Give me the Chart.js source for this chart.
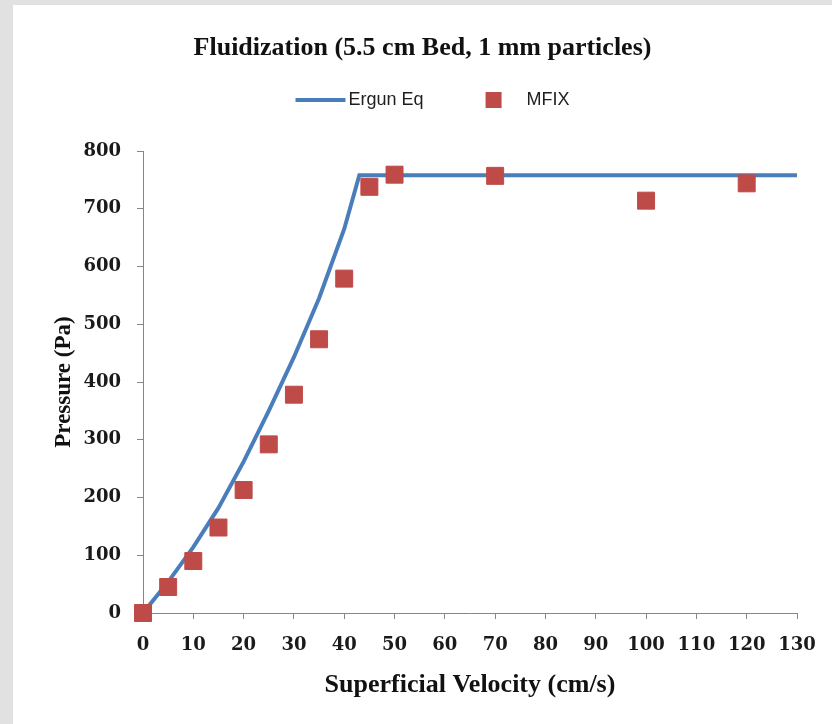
<!DOCTYPE html>
<html>
<head>
<meta charset="utf-8">
<script src="https://cdn.jsdelivr.net/npm/chart.js@4.4.1/dist/chart.umd.min.js"></script>
<style>
  html, body { margin: 0; padding: 0; background: #e1e1e1; width: 832px; height: 724px; overflow: hidden; }
  #panel { position: absolute; left: 13px; top: 5px; width: 819px; height: 719px; background: #fff; }
</style>
</head>
<body>
<div id="panel"><canvas id="chart"></canvas></div>
<script>
// Ergun equation curve (cm/s -> Pa)
const ergunVel = [0, 5, 10, 15, 20, 25, 30, 35, 40, 43, 130];
const ergunDp = [0, 54, 114, 182, 262, 350, 443, 545, 665, 758, 758];

// MFIX simulation points
const mfixVel = [0, 5, 10, 15, 20, 25, 30, 35, 40, 45, 50, 70, 100, 120];
const mfixDp = [0, 45, 90, 148, 213, 292, 378, 474, 579, 738, 759, 757, 714, 744];

const colors = {
  ergun: '#4a7ebb',
  mfix: '#be4b48',
  axis: '#868686',
  text: '#1a1a1a',
};

const toXY = (xs, ys) => xs.map((x, i) => ({ x, y: ys[i] }));

// Legend glyphs, drawn into small canvases so each entry can have its own shape
function legendLine() {
  const c = document.createElement('canvas');
  c.width = 80; c.height = 4;
  const g = c.getContext('2d');
  g.fillStyle = colors.ergun;
  g.fillRect(28, 0, 50, 4);
  return c;
}
function legendSquare() {
  const c = document.createElement('canvas');
  c.width = 64; c.height = 16;
  const g = c.getContext('2d');
  g.fillStyle = colors.mfix;
  g.fillRect(32, 0, 16, 16);
  return c;
}
const legendGlyphs = [legendLine(), legendSquare()];

// empty box between legend and plot area
const legendGap = {
  id: 'legendGap',
  beforeInit(chart) {
    const box = {
      position: 'top', weight: 500, fullSize: true, options: {},
      width: 0, height: 0, left: 0, top: 0, right: 0, bottom: 0,
      isHorizontal: () => true,
      update(maxWidth) { box.width = maxWidth; box.height = 32; },
      draw() {}
    };
    Chart.layouts.addBox(chart, box);
  }
};

const serif = "'Liberation Serif', 'Times New Roman', serif";
const tickFont = { family: "'DejaVu Serif', serif", size: 18, weight: 'bold' };

new Chart(document.getElementById('chart'), {
  type: 'scatter',
  data: {
    datasets: [
      {
        label: 'Ergun Eq',
        type: 'line',
        data: toXY(ergunVel, ergunDp),
        borderColor: colors.ergun,
        backgroundColor: colors.ergun,
        borderWidth: 4,
        pointRadius: 0,
        tension: 0,
        fill: false,
        order: 2,
      },
      {
        label: 'MFIX',
        data: toXY(mfixVel, mfixDp),
        pointStyle: 'rect',
        pointRadius: 12,
        pointBackgroundColor: colors.mfix,
        pointBorderColor: colors.mfix,
        backgroundColor: colors.mfix,
        borderColor: colors.mfix,
        clip: false,
        order: 1,
      },
    ]
  },
  plugins: [legendGap],
  options: {
    responsive: true,
    maintainAspectRatio: false,
    animation: false,
    layout: { padding: 0 },
    plugins: {
      title: {
        display: true,
        text: 'Fluidization (5.5 cm Bed, 1 mm particles)',
        color: '#111',
        font: { family: serif, size: 26, weight: 'bold', lineHeight: 1 },
        padding: { top: 30, bottom: 0 },
      },
      legend: {
        position: 'top',
        labels: {
          usePointStyle: true,
          pointStyleWidth: 64,
          padding: 30,
          color: '#1e1e1e',
          font: { family: "'Liberation Sans Narrow', 'Liberation Sans', sans-serif", size: 18 },
          sort: (a, b) => a.datasetIndex - b.datasetIndex,
          generateLabels(chart) {
            const items = Chart.defaults.plugins.legend.labels.generateLabels(chart);
            items.forEach(it => { it.pointStyle = legendGlyphs[it.datasetIndex]; });
            return items;
          }
        }
      },
      tooltip: { enabled: false }
    },
    scales: {
      x: {
        type: 'linear',
        min: 0,
        max: 130,
        afterFit: s => { s.height = 111; s.paddingRight = 35; },
        ticks: { stepSize: 10, color: colors.text, font: tickFont, padding: 16, maxRotation: 0 },
        grid: { display: true, drawOnChartArea: false, drawTicks: true, tickLength: 6, color: colors.axis },
        border: { display: true, color: colors.axis, width: 1 },
        title: {
          display: true,
          text: 'Superficial Velocity (cm/s)',
          color: '#111',
          font: { family: serif, size: 26, weight: 'bold' },
          padding: { top: 0, bottom: 23 },
        }
      },
      y: {
        min: 0,
        max: 800,
        afterFit: s => { s.width = 130; s.paddingTop = 146; },
        ticks: { stepSize: 100, color: colors.text, font: tickFont, padding: 16 },
        grid: { display: true, drawOnChartArea: false, drawTicks: true, tickLength: 6, color: colors.axis },
        border: { display: true, color: colors.axis, width: 1 },
        title: {
          display: true,
          text: 'Pressure (Pa)',
          color: '#111',
          font: { family: serif, size: 23, weight: 'bold' },
          padding: { top: 37, bottom: 0 },
        }
      }
    }
  }
});
</script>
</body>
</html>
